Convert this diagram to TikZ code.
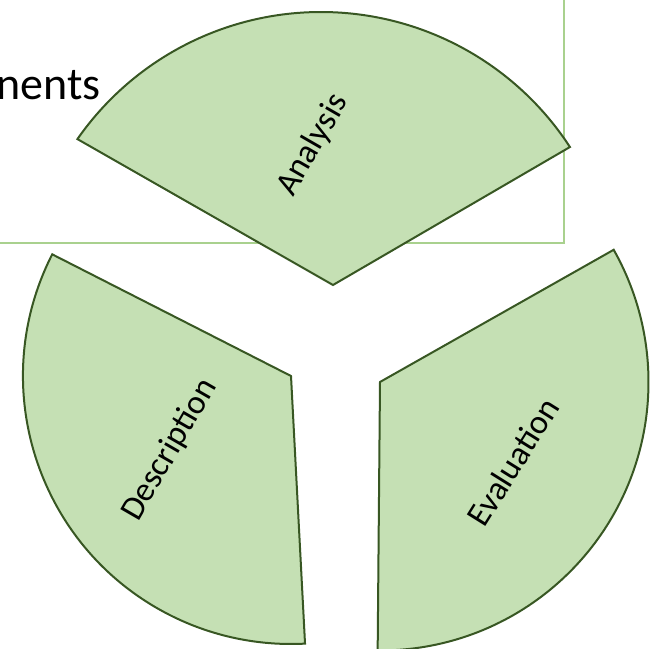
\documentclass[tikz,border=0pt]{standalone}
\usepackage{fontspec}
\setmainfont{Carlito}
\usetikzlibrary{calc}
\definecolor{segfill}{RGB}{197,224,180}
\definecolor{segline}{RGB}{56,87,35}
\definecolor{boxline}{RGB}{169,209,142}
\tikzset{
  segment/.style={fill=segfill, draw=segline, line width=2pt, line join=miter},
  seglabel/.style={inner sep=0pt, font=\fontsize{34}{40}\selectfont, text=black},
  frame/.style={draw=boxline, line width=1.5pt},
}
\begin{document}
\begin{tikzpicture}[x=1pt,y=1pt]
\useasboundingbox (0,0) rectangle (656,648);
\clip (0,0) rectangle (656,648);
% background frame with partially hidden text
\draw[frame] (-10,405) rectangle (564,670);
\node[inner sep=0pt, anchor=base east, font=\fontsize{46}{54}\selectfont] (frametext) at (101,548) {nents};
% Analysis
\coordinate (aA) at (333,363);
\coordinate (aC) at (321,339);
\path[segment] (aA) -- ($(aC)+(145.1:297)$) arc[start angle=145.1, end angle=33.05, radius=297pt] -- cycle;
\node[seglabel, rotate=60] (analysis) at (313,503) {Analysis};
% Description
\coordinate (dA) at (291,272);
\path[segment] (dA) -- ($(dA)+(153:268)$) arc[start angle=153, end angle=273, radius=268pt] -- cycle;
\node[seglabel, rotate=60] (description) at (170,198) {Description};
% Evaluation
\coordinate (eA) at (380,266);
\path[segment] (eA) -- ($(eA)+(-90.5:268.5)$) arc[start angle=-90.5, end angle=29.5, radius=268.5pt] -- cycle;
\node[seglabel, rotate=58] (evaluation) at (513,186) {Evaluation};
\end{tikzpicture}
\end{document}
